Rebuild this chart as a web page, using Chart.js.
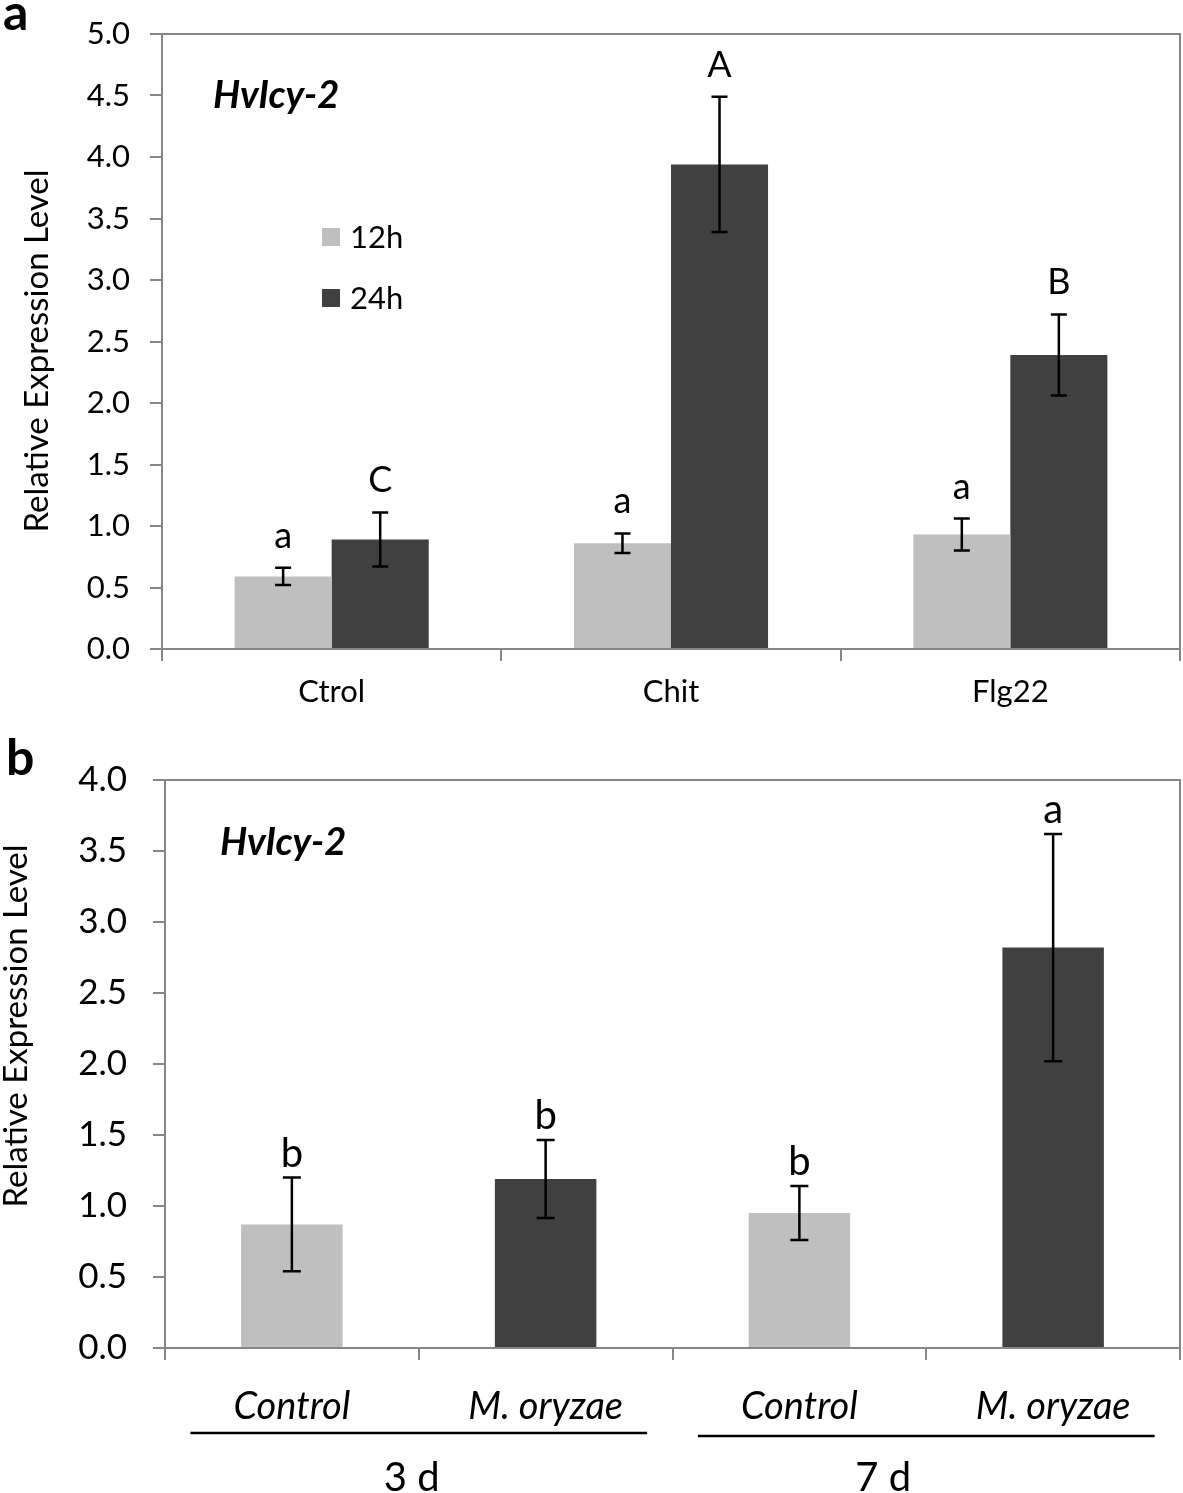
<!DOCTYPE html>
<html>
<head>
<meta charset="utf-8">
<script src="https://cdn.jsdelivr.net/npm/chart.js@4.4.0/dist/chart.umd.min.js"></script>
<style>
  body { margin: 0; background: #fff; width: 1183px; height: 1493px; position: relative; overflow: hidden; }
  .wrap { position: absolute; left: 0; width: 1183px; }
  #wa { top: 0; height: 720px; }
  #wb { top: 720px; height: 773px; }
</style>
</head>
<body>
<div class="wrap" id="wa"><canvas id="ca"></canvas></div>
<div class="wrap" id="wb"><canvas id="cb"></canvas></div>
<script>
const FONT = 'Lato, "Open Sans", sans-serif';

// panel a: elicitor treatments, two time points
const treatA = ["Ctrol", "Chit", "Flg22"];
const seriesA = ["12h", "24h"];
const mean12h = [0.59, 0.86, 0.93];
const sd12h = [0.07, 0.08, 0.13];
const mean24h = [0.89, 3.94, 2.39];
const sd24h = [0.22, 0.55, 0.33];
const sig12h = ["a", "a", "a"];
const sig24h = ["C", "A", "B"];
const yMaxA = 5.0;

// panel b: M. oryzae infection, 3 d and 7 d
const treatB = ["Control", "M. oryzae", "Control", "M. oryzae"];
const dayB = ["3 d", "7 d"];
const meanB = [0.87, 1.19, 0.95, 2.82];
const sdB = [0.33, 0.275, 0.19, 0.80];
const sigB = ["b", "b", "b", "a"];
const yMaxB = 4.0;
const yStep = 0.5;

const LIGHT = "#BFBFBF";
const DARK = "#404040";
const AXIS = "#868686";

// error bars + significance letters above each bar
const errorBars = {
  id: "errorBars",
  afterDatasetsDraw(chart, args, opts) {
    const { ctx } = chart;
    const y = chart.scales.y;
    ctx.save();
    chart.data.datasets.forEach((ds, di) => {
      chart.getDatasetMeta(di).data.forEach((bar, i) => {
        const v = ds.data[i], e = ds.errors[i];
        const top = y.getPixelForValue(v + e);
        const bot = y.getPixelForValue(v - e);
        ctx.strokeStyle = "#000";
        ctx.lineWidth = opts.lw;
        ctx.beginPath();
        ctx.moveTo(bar.x, top); ctx.lineTo(bar.x, bot);
        ctx.moveTo(bar.x - opts.cap, top); ctx.lineTo(bar.x + opts.cap, top);
        ctx.moveTo(bar.x - opts.cap, bot); ctx.lineTo(bar.x + opts.cap, bot);
        ctx.stroke();
        ctx.fillStyle = "#000";
        ctx.font = opts.font;
        ctx.textAlign = "center";
        ctx.textBaseline = "alphabetic";
        ctx.fillText(ds.sig[i], bar.x, top - opts.gap);
      });
    });
    ctx.restore();
  }
};

// top and right sides of the plot box
const frame = {
  id: "frame",
  afterDraw(chart) {
    const { ctx, chartArea: a } = chart;
    ctx.save();
    ctx.strokeStyle = AXIS;
    ctx.lineWidth = 2;
    ctx.beginPath();
    ctx.moveTo(a.left - 12, a.top);
    ctx.lineTo(a.right, a.top);
    ctx.lineTo(a.right, a.bottom);
    ctx.stroke();
    ctx.restore();
  }
};

// free text: panel letter, gene name, rotated y title
const texts = {
  id: "texts",
  afterDraw(chart, args, opts) {
    const { ctx } = chart;
    opts.items.forEach(t => {
      ctx.save();
      ctx.translate(t.x, t.y);
      if (t.rot) ctx.rotate(t.rot);
      ctx.font = t.font;
      ctx.fillStyle = "#000";
      ctx.textAlign = t.align || "left";
      ctx.textBaseline = t.base || "alphabetic";
      ctx.fillText(t.text, 0, 0);
      ctx.restore();
    });
  }
};

// legend inside the plot for panel a
const boxLegend = {
  id: "boxLegend",
  afterDraw(chart, args, opts) {
    const { ctx, chartArea: a } = chart;
    ctx.save();
    chart.data.datasets.forEach((ds, i) => {
      const cy = a.top + opts.top + i * opts.row;
      const x = a.left + opts.left;
      ctx.fillStyle = ds.backgroundColor;
      ctx.fillRect(x, cy - opts.box / 2, opts.box, opts.box);
      ctx.fillStyle = "#000";
      ctx.font = opts.font;
      ctx.textBaseline = "middle";
      ctx.textAlign = "left";
      ctx.fillText(ds.label, x + opts.box + 10, cy + 1);
    });
    ctx.restore();
  }
};

// underline and day label under each pair of categories in panel b
const dayGroups = {
  id: "dayGroups",
  afterDraw(chart, args, opts) {
    const { ctx, chartArea: a } = chart;
    const x = chart.scales.x;
    const catW = x.getPixelForValue(1) - x.getPixelForValue(0);
    ctx.save();
    dayB.forEach((d, g) => {
      const mid = (x.getPixelForValue(2 * g) + x.getPixelForValue(2 * g + 1)) / 2;
      const half = catW * 0.9;
      const ly = a.bottom + opts.lineOff + g * 3;
      ctx.strokeStyle = "#000";
      ctx.lineWidth = 2.5;
      ctx.beginPath();
      ctx.moveTo(mid - half, ly);
      ctx.lineTo(mid + half, ly);
      ctx.stroke();
      ctx.fillStyle = "#000";
      ctx.font = opts.font;
      ctx.textAlign = "center";
      ctx.textBaseline = "middle";
      ctx.fillText(d, mid + opts.shift[g], a.bottom + opts.textOff);
    });
    ctx.restore();
  }
};

function yAxis(max, size, pad, w) {
  return {
    min: 0, max: max,
    ticks: { stepSize: yStep, callback: v => v.toFixed(1), color: "#000", font: { family: FONT, size: size }, padding: pad },
    grid: { drawOnChartArea: false, tickLength: 12, color: AXIS, lineWidth: 2 },
    border: { color: AXIS, width: 2 },
    afterFit(s) { s.width = w; s.paddingTop = 0; s.paddingBottom = 0; }
  };
}

new Chart(document.getElementById("ca"), {
  type: "bar",
  data: {
    labels: treatA,
    datasets: [
      { label: seriesA[0], data: mean12h, errors: sd12h, sig: sig12h, backgroundColor: LIGHT },
      { label: seriesA[1], data: mean24h, errors: sd24h, sig: sig24h, backgroundColor: DARK }
    ]
  },
  options: {
    responsive: true,
    maintainAspectRatio: false,
    animation: false,
    layout: { padding: { top: 34, right: 3, left: 0, bottom: 0 } },
    datasets: { bar: { categoryPercentage: 0.572, barPercentage: 1.0 } },
    scales: {
      x: {
        ticks: { color: "#000", font: { family: FONT, size: 31 }, padding: 12 },
        grid: { offset: true, drawOnChartArea: false, tickLength: 12, color: AXIS, lineWidth: 2 },
        border: { color: AXIS, width: 2 },
        afterFit(s) { s.height = 71; }
      },
      y: yAxis(yMaxA, 31, 20, 162)
    },
    plugins: {
      legend: { display: false },
      tooltip: { enabled: false },
      errorBars: { lw: 2.5, cap: 8, gap: 20, font: "36px " + FONT },
      boxLegend: { left: 160, top: 203, row: 61, box: 18, font: "31px " + FONT },
      texts: {
        items: [
          { text: "a", x: 3, y: 30, font: "bold 50px " + FONT },
          { text: "HvIcy-2", x: 213, y: 108, font: "italic bold 38px " + FONT },
          { text: "Relative Expression Level", x: 37, y: 351, rot: -Math.PI / 2, align: "center", base: "middle", font: "33px " + FONT }
        ]
      }
    }
  },
  plugins: [errorBars, frame, boxLegend, texts]
});

new Chart(document.getElementById("cb"), {
  type: "bar",
  data: {
    labels: treatB,
    datasets: [
      { label: "expr", data: meanB, errors: sdB, sig: sigB,
        backgroundColor: treatB.map(t => t === "Control" ? LIGHT : DARK) }
    ]
  },
  options: {
    responsive: true,
    maintainAspectRatio: false,
    animation: false,
    layout: { padding: { top: 60, right: 3, left: 0, bottom: 0 } },
    datasets: { bar: { categoryPercentage: 0.40, barPercentage: 1.0 } },
    scales: {
      x: {
        ticks: { color: "#000", font: { family: FONT, size: 38, style: "italic" }, padding: 24 },
        grid: { offset: true, drawOnChartArea: false, tickLength: 12, color: AXIS, lineWidth: 2 },
        border: { color: AXIS, width: 2 },
        afterFit(s) { s.height = 145; }
      },
      y: yAxis(yMaxB, 35, 26, 165)
    },
    plugins: {
      legend: { display: false },
      tooltip: { enabled: false },
      errorBars: { lw: 2.5, cap: 9, gap: 11, font: "40px " + FONT },
      dayGroups: { lineOff: 85, textOff: 130, shift: [-7, -43], font: "40px " + FONT },
      texts: {
        items: [
          { text: "b", x: 6, y: 55, font: "bold 50px " + FONT },
          { text: "HvIcy-2", x: 220, y: 135, font: "italic bold 38px " + FONT },
          { text: "Relative Expression Level", x: 16, y: 306, rot: -Math.PI / 2, align: "center", base: "middle", font: "33px " + FONT }
        ]
      }
    }
  },
  plugins: [errorBars, frame, dayGroups, texts]
});
</script>
</body>
</html>
